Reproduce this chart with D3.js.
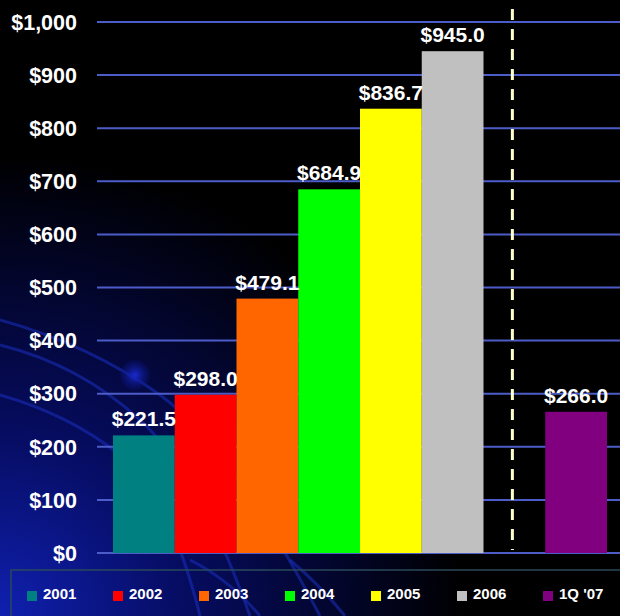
<!DOCTYPE html>
<html lang="en">
<head>
    <meta charset="UTF-8">
    <title>Revenue by Year</title>
    <script src="https://d3js.org/d3.v7.min.js"></script>
    <style>
        body { margin: 0; background: #000; }
        text { font-family: "Liberation Sans", Arial, sans-serif; font-weight: bold; fill: #fff; }
    </style>
</head>
<body>
    <svg width="620" height="616"></svg>

    <script>
        // chart data
        const categories = ["2001", "2002", "2003", "2004", "2005", "2006", "1Q '07"];
        const values = [221.5, 298.0, 479.1, 684.9, 836.7, 945.0, 266.0];
        const colors = ["#008080", "#ff0000", "#ff6600", "#00ff00", "#ffff00", "#c0c0c0", "#800080"];
        const yTicks = [0, 100, 200, 300, 400, 500, 600, 700, 800, 900, 1000];

        const svg = d3.select("svg");
        const defs = svg.append("defs");

        // background glow bottom-left
        const glow = defs.append("radialGradient").attr("id", "glow")
            .attr("cx", "0%").attr("cy", "100%").attr("r", "75%");
        glow.append("stop").attr("offset", "0%").attr("stop-color", "#1020b0");
        glow.append("stop").attr("offset", "40%").attr("stop-color", "#060c60");
        glow.append("stop").attr("offset", "100%").attr("stop-color", "#000000");
        svg.append("rect").attr("width", 620).attr("height", 616).attr("fill", "url(#glow)");

        const orb = defs.append("radialGradient").attr("id", "orb");
        orb.append("stop").attr("offset", "0%").attr("stop-color", "#1a2ad0");
        orb.append("stop").attr("offset", "100%").attr("stop-color", "#0a1480").attr("stop-opacity", 0.2);

        // decorative arcs
        const arcs = [
            "M0,320 Q90,345 160,395 T320,616",
            "M0,345 Q80,365 140,420 T250,616",
            "M0,395 Q70,415 120,455 T200,616",
            "M190,560 Q230,580 260,616",
            "M290,560 Q320,585 345,616"
        ];
        svg.selectAll("path.arc").data(arcs).enter().append("path")
            .attr("class", "arc")
            .attr("d", d => d)
            .attr("fill", "none")
            .attr("stroke", "#1a30c0")
            .attr("stroke-opacity", 0.55)
            .attr("stroke-width", 3);
        svg.append("circle").attr("cx", 135).attr("cy", 375).attr("r", 15).attr("fill", "url(#orb)");

        // scales
        const slots = ["2001", "2002", "2003", "2004", "2005", "2006", "gap", "1Q '07"];
        const x = d3.scaleBand().domain(slots).range([113, 607]).padding(0);
        const y = d3.scaleLinear().domain([0, 1000]).range([553, 22]);

        // gridlines
        svg.selectAll("line.grid").data(yTicks).enter().append("line")
            .attr("x1", 97).attr("x2", 620)
            .attr("y1", d => y(d)).attr("y2", d => y(d))
            .attr("stroke", "#4c5cc8")
            .attr("stroke-width", 2);

        // y axis labels
        svg.selectAll("text.ytick").data(yTicks).enter().append("text")
            .attr("x", 77).attr("y", d => y(d))
            .attr("dy", "0.36em")
            .attr("text-anchor", "end")
            .attr("font-size", 21.5)
            .text(d => "$" + d3.format(",")(d));

        // bars
        svg.selectAll("rect.bar").data(values).enter().append("rect")
            .attr("x", (d, i) => x(categories[i]))
            .attr("y", d => y(d))
            .attr("width", x.bandwidth())
            .attr("height", d => y(0) - y(d))
            .attr("fill", (d, i) => colors[i]);

        // value labels
        svg.selectAll("text.val").data(values).enter().append("text")
            .attr("x", (d, i) => x(categories[i]) + x.bandwidth() / 2)
            .attr("y", d => y(d) - 9)
            .attr("text-anchor", "middle")
            .attr("font-size", 21)
            .text(d => "$" + d.toFixed(1));

        // dashed separator
        const sepX = x("gap") + x.bandwidth() / 2 - 2;
        svg.append("line")
            .attr("x1", sepX).attr("x2", sepX)
            .attr("y1", 9).attr("y2", 550)
            .attr("stroke", "#ffffcc")
            .attr("stroke-width", 3)
            .attr("stroke-dasharray", "11,9");

        // legend
        svg.append("rect")
            .attr("x", 11).attr("y", 570).attr("width", 620).attr("height", 60)
            .attr("fill", "none").attr("stroke", "#2a4a5a").attr("stroke-width", 1.5);
        const legend = svg.selectAll("g.leg").data(categories).enter().append("g")
            .attr("transform", (d, i) => `translate(${27 + i * 86},591)`);
        legend.append("rect")
            .attr("width", 10).attr("height", 10).attr("y", 0)
            .attr("fill", (d, i) => colors[i]);
        legend.append("text")
            .attr("x", 16).attr("y", 3).attr("dy", "0.36em")
            .attr("font-size", 15)
            .text(d => d);
    </script>
</body>
</html>
